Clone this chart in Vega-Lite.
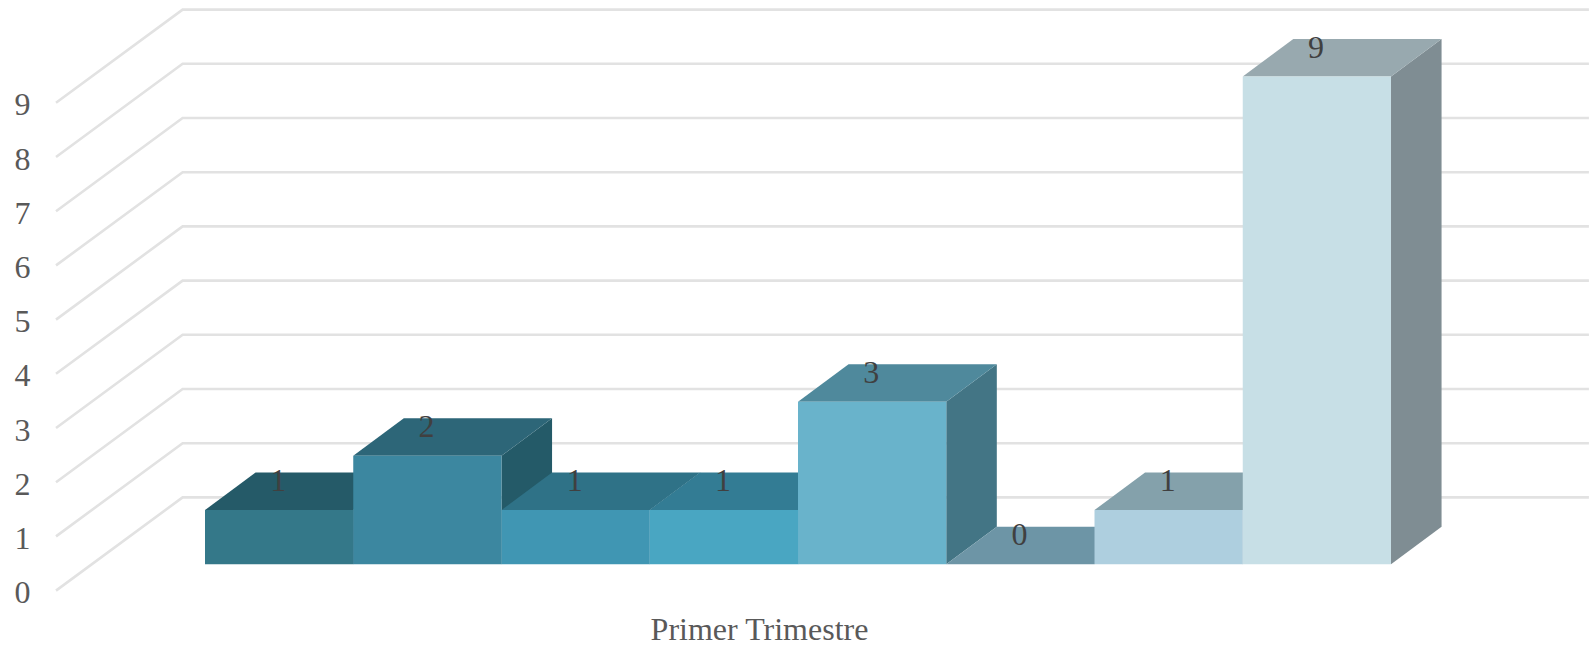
{
"$schema":"https://vega.github.io/schema/vega-lite/v6.json",
"width":1551,"height":610,
"autosize":{"type":"none"},
"padding":{"left":40,"top":0,"right":0,"bottom":38},
"background":"white",
"config":{"view":{"stroke":null}},
"datasets":{
"walls":[
{"level":0,"x":-1.005,"y":0},{"level":0,"x":-0.151,"y":1.72},{"level":0,"x":9.335,"y":1.72},
{"level":1,"x":-1.005,"y":1},{"level":1,"x":-0.151,"y":2.72},{"level":1,"x":9.335,"y":2.72},
{"level":2,"x":-1.005,"y":2},{"level":2,"x":-0.151,"y":3.72},{"level":2,"x":9.335,"y":3.72},
{"level":3,"x":-1.005,"y":3},{"level":3,"x":-0.151,"y":4.72},{"level":3,"x":9.335,"y":4.72},
{"level":4,"x":-1.005,"y":4},{"level":4,"x":-0.151,"y":5.72},{"level":4,"x":9.335,"y":5.72},
{"level":5,"x":-1.005,"y":5},{"level":5,"x":-0.151,"y":6.72},{"level":5,"x":9.335,"y":6.72},
{"level":6,"x":-1.005,"y":6},{"level":6,"x":-0.151,"y":7.72},{"level":6,"x":9.335,"y":7.72},
{"level":7,"x":-1.005,"y":7},{"level":7,"x":-0.151,"y":8.72},{"level":7,"x":9.335,"y":8.72},
{"level":8,"x":-1.005,"y":8},{"level":8,"x":-0.151,"y":9.72},{"level":8,"x":9.335,"y":9.72},
{"level":9,"x":-1.005,"y":9},{"level":9,"x":-0.151,"y":10.72},{"level":9,"x":9.335,"y":10.72}
],
"faces":[
{"part":"a0-side","x":1,"y":0.486,"y2":1.486},{"part":"a0-side","x":1.341,"y":1.178,"y2":2.178},
{"part":"a0-top","x":0,"y":1.486,"y2":1.486},{"part":"a0-top","x":0.341,"y":1.486,"y2":2.178},{"part":"a0-top","x":1,"y":1.486,"y2":2.178},{"part":"a0-top","x":1.341,"y":2.178,"y2":2.178},
{"part":"a0-front","x":0,"y":0.486,"y2":1.486},{"part":"a0-front","x":1,"y":0.486,"y2":1.486},

{"part":"a1-side","x":2,"y":0.486,"y2":2.486},{"part":"a1-side","x":2.341,"y":1.178,"y2":3.178},
{"part":"a1-top","x":1,"y":2.486,"y2":2.486},{"part":"a1-top","x":1.341,"y":2.486,"y2":3.178},{"part":"a1-top","x":2,"y":2.486,"y2":3.178},{"part":"a1-top","x":2.341,"y":3.178,"y2":3.178},
{"part":"a1-front","x":1,"y":0.486,"y2":2.486},{"part":"a1-front","x":2,"y":0.486,"y2":2.486},

{"part":"a2-side","x":3,"y":0.486,"y2":1.486},{"part":"a2-side","x":3.341,"y":1.178,"y2":2.178},
{"part":"a2-top","x":2,"y":1.486,"y2":1.486},{"part":"a2-top","x":2.341,"y":1.486,"y2":2.178},{"part":"a2-top","x":3,"y":1.486,"y2":2.178},{"part":"a2-top","x":3.341,"y":2.178,"y2":2.178},
{"part":"a2-front","x":2,"y":0.486,"y2":1.486},{"part":"a2-front","x":3,"y":0.486,"y2":1.486},

{"part":"a3-side","x":4,"y":0.486,"y2":1.486},{"part":"a3-side","x":4.341,"y":1.178,"y2":2.178},
{"part":"a3-top","x":3,"y":1.486,"y2":1.486},{"part":"a3-top","x":3.341,"y":1.486,"y2":2.178},{"part":"a3-top","x":4,"y":1.486,"y2":2.178},{"part":"a3-top","x":4.341,"y":2.178,"y2":2.178},
{"part":"a3-front","x":3,"y":0.486,"y2":1.486},{"part":"a3-front","x":4,"y":0.486,"y2":1.486},

{"part":"a4-side","x":5,"y":0.486,"y2":3.486},{"part":"a4-side","x":5.341,"y":1.178,"y2":4.178},
{"part":"a4-top","x":4,"y":3.486,"y2":3.486},{"part":"a4-top","x":4.341,"y":3.486,"y2":4.178},{"part":"a4-top","x":5,"y":3.486,"y2":4.178},{"part":"a4-top","x":5.341,"y":4.178,"y2":4.178},
{"part":"a4-front","x":4,"y":0.486,"y2":3.486},{"part":"a4-front","x":5,"y":0.486,"y2":3.486},

{"part":"a5-top","x":5,"y":0.486,"y2":0.486},{"part":"a5-top","x":5.341,"y":0.486,"y2":1.178},{"part":"a5-top","x":6,"y":0.486,"y2":1.178},{"part":"a5-top","x":6.341,"y":1.178,"y2":1.178},

{"part":"a6-side","x":7,"y":0.486,"y2":1.486},{"part":"a6-side","x":7.341,"y":1.178,"y2":2.178},
{"part":"a6-top","x":6,"y":1.486,"y2":1.486},{"part":"a6-top","x":6.341,"y":1.486,"y2":2.178},{"part":"a6-top","x":7,"y":1.486,"y2":2.178},{"part":"a6-top","x":7.341,"y":2.178,"y2":2.178},
{"part":"a6-front","x":6,"y":0.486,"y2":1.486},{"part":"a6-front","x":7,"y":0.486,"y2":1.486},

{"part":"a7-side","x":8,"y":0.486,"y2":9.486},{"part":"a7-side","x":8.341,"y":1.178,"y2":10.178},
{"part":"a7-top","x":7,"y":9.486,"y2":9.486},{"part":"a7-top","x":7.341,"y":9.486,"y2":10.178},{"part":"a7-top","x":8,"y":9.486,"y2":10.178},{"part":"a7-top","x":8.341,"y":10.178,"y2":10.178},
{"part":"a7-front","x":7,"y":0.486,"y2":9.486},{"part":"a7-front","x":8,"y":0.486,"y2":9.486}
],
"labels":[
{"value":1,"x":0.5,"y":2},{"value":2,"x":1.5,"y":3},{"value":1,"x":2.5,"y":2},{"value":1,"x":3.5,"y":2},
{"value":3,"x":4.5,"y":4},{"value":0,"x":5.5,"y":1},{"value":1,"x":6.5,"y":2},{"value":9,"x":7.5,"y":10}
]
},
"layer":[
{"data":{"name":"walls"},
 "mark":{"type":"line","color":"#e2e2e2","strokeWidth":2.6},
 "encoding":{
  "x":{"field":"x","type":"quantitative","scale":{"domain":[-1.113,9.349],"nice":false,"zero":false},
   "axis":{"title":"Primer Trimestre","labels":false,"ticks":false,"domain":false,"grid":false,"titleFont":"Liberation Serif","titleFontSize":32,"titleFontWeight":"normal","titleColor":"#595959","titleX":719,"titlePadding":4}},
  "y":{"field":"y","type":"quantitative","scale":{"domain":[-0.358,10.897],"nice":false,"zero":false},
   "axis":{"title":null,"values":[0,1,2,3,4,5,6,7,8,9],"ticks":false,"domain":false,"grid":false,"labelFont":"Liberation Serif","labelFontSize":32,"labelColor":"#595959","labelPadding":10,"labelOffset":2,"format":"d"}},
  "detail":{"field":"level"}}},
{"data":{"name":"faces"},
 "mark":{"type":"area","opacity":1},
 "encoding":{
  "x":{"field":"x","type":"quantitative"},
  "y":{"field":"y","type":"quantitative","stack":null},
  "y2":{"field":"y2"},
  "detail":{"field":"part"},
  "fill":{"field":"part","type":"nominal","legend":null,"sort":null,"scale":{
   "domain":["a0-side","a0-top","a0-front","a1-side","a1-top","a1-front","a2-side","a2-top","a2-front","a3-side","a3-top","a3-front","a4-side","a4-top","a4-front","a5-top","a6-side","a6-top","a6-front","a7-side","a7-top","a7-front"],
   "range":["#255a68","#255a68","#347889","#245a68","#2d6678","#3c87a0","#2b6e84","#2f7287","#4096b3","#307a90","#337c94","#49a6c2","#437585","#4f899c","#69b3cb","#6d95a6","#6f8c98","#84a1ab","#aecfdf","#7f8d93","#98a9af","#c7dfe6"]}}}},
{"data":{"name":"labels"},
 "mark":{"type":"text","font":"Liberation Serif","fontSize":32,"color":"#404040","dx":-1,"dy":-1},
 "encoding":{
  "x":{"field":"x","type":"quantitative"},
  "y":{"field":"y","type":"quantitative"},
  "text":{"field":"value","type":"quantitative"}}}
]
}
